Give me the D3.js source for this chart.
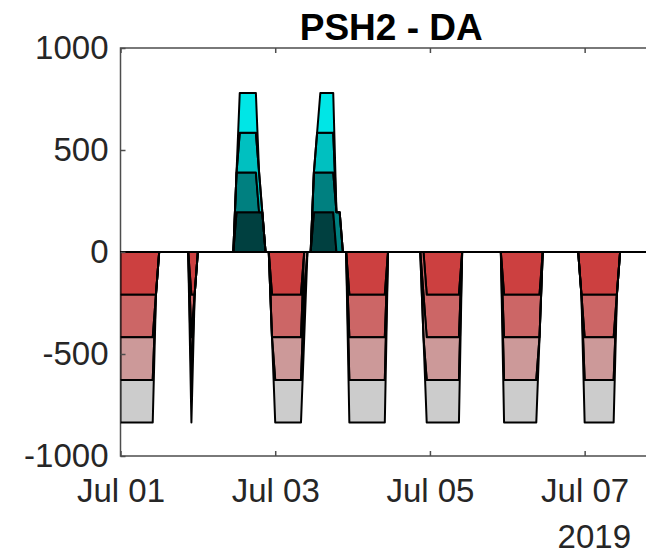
<!DOCTYPE html>
<html>
<head>
<meta charset="utf-8">
<script src="https://cdn.jsdelivr.net/npm/d3@7"></script>
<style>
  body { margin: 0; background: #fff; }
  text { font-family: "Liberation Sans", Arial, Helvetica, sans-serif; }
</style>
</head>
<body>
<svg id="chart" width="646" height="556"></svg>
<script>
// ---- data -------------------------------------------------------------
const chartTitle = "PSH2 - DA";
const hourCount = 168;                       // hourly schedule, Jul 01 00:00 .. Jul 08 00:00
const startTime = new Date(2019, 6, 1, 0, 0);

// generating units (stacked upward from zero, first unit nearest the baseline)
const genUnits  = ["Gen 1", "Gen 2", "Gen 3", "Gen 4"];
const genMW     = [195, 195, 195, 195];
const genColors = ["#004040", "#008080", "#00c0c0", "#00e6e6"];
// hours (inclusive) during which each generating unit runs
const genOnHours = [
  [[36, 44], [60, 66]],
  [[36, 42], [60, 68]],
  [[37, 43], [61, 66]],
  [[37, 42], [62, 66]]
];

// pumping units (stacked downward from zero, first unit nearest the baseline)
const pumpUnits  = ["Pump 1", "Pump 2", "Pump 3", "Pump 4"];
const pumpMW     = [-209, -209, -209, -209];
const pumpColors = ["#cc4040", "#cc6666", "#cc9999", "#cccccc"];
// hours (inclusive) during which each pumping unit runs
const pumpOnHours = [
  [[0, 11], [22, 23], [47, 56], [71, 82], [95, 105], [119, 130], [143, 154]],
  [[0, 10], [22, 22], [47, 56], [71, 82], [94, 105], [119, 130], [144, 153]],
  [[0, 10], [22, 22], [48, 57], [71, 82], [94, 105], [119, 129], [144, 153]],
  [[0, 10], [22, 22], [48, 57], [71, 82], [95, 105], [119, 129], [144, 153]]
];

const yTicks      = [-1000, -500, 0, 500, 1000];
const yTickLabels = ["-1000", "-500", "0", "500", "1000"];
const xTickDates  = [new Date(2019, 6, 1), new Date(2019, 6, 3), new Date(2019, 6, 5), new Date(2019, 6, 7)];
const xTickLabels = ["Jul 01", "Jul 03", "Jul 05", "Jul 07"];
const yearLabel   = "2019";

// ---- layout -----------------------------------------------------------
const svg = d3.select("#chart");
const plot = { left: 120.5, top: 48, right: 662, bottom: 456 };

const x = d3.scaleTime()
  .domain([startTime, new Date(2019, 6, 8, 0, 0)])
  .range([plot.left, plot.right]);
const y = d3.scaleLinear()
  .domain([-1000, 1000])
  .range([plot.bottom, plot.top]);

// hourly table of unit outputs
function unitOutput(intervals, mw, h) {
  return intervals.some(([a, b]) => h >= a && h <= b) ? mw : 0;
}
const rows = d3.range(hourCount + 1).map(h => {
  const row = { time: d3.timeHour.offset(startTime, h) };
  genUnits.forEach((k, i) => row[k] = unitOutput(genOnHours[i], genMW[i], h));
  pumpUnits.forEach((k, i) => row[k] = unitOutput(pumpOnHours[i], pumpMW[i], h));
  return row;
});

const genStack  = d3.stack().keys(genUnits)(rows);
const pumpStack = d3.stack().keys(pumpUnits)(rows);

const area = d3.area()
  .x(d => x(d.data.time))
  .y0(d => y(d[0]))
  .y1(d => y(d[1]));

// ---- axes box ---------------------------------------------------------
const axisColor = "#4d4d4d";
svg.append("rect")
  .attr("x", plot.left).attr("y", plot.top)
  .attr("width", plot.right - plot.left).attr("height", plot.bottom - plot.top)
  .attr("fill", "none").attr("stroke", axisColor).attr("stroke-width", 1.5);

// ---- stacked areas ----------------------------------------------------
svg.append("defs").append("clipPath").attr("id", "plotClip")
  .append("rect")
  .attr("x", plot.left).attr("y", plot.top)
  .attr("width", plot.right - plot.left).attr("height", plot.bottom - plot.top);

const layers = svg.append("g").attr("clip-path", "url(#plotClip)");

layers.selectAll("path.pump")
  .data(pumpStack)
  .join("path")
  .attr("class", "pump")
  .attr("d", area)
  .attr("fill", (d, i) => pumpColors[i])
  .attr("stroke", "#000")
  .attr("stroke-width", 2)
  .attr("stroke-linejoin", "round");

layers.selectAll("path.gen")
  .data(genStack)
  .join("path")
  .attr("class", "gen")
  .attr("d", area)
  .attr("fill", (d, i) => genColors[i])
  .attr("stroke", "#000")
  .attr("stroke-width", 2)
  .attr("stroke-linejoin", "round");

// area baseline
layers.append("line")
  .attr("x1", plot.left).attr("x2", plot.right)
  .attr("y1", y(0)).attr("y2", y(0))
  .attr("stroke", "#000").attr("stroke-width", 1.6);

// ---- ticks and labels -------------------------------------------------
const yAxis = svg.append("g")
  .attr("transform", `translate(${plot.left},0)`)
  .call(d3.axisLeft(y).tickValues(yTicks)
    .tickFormat((d, i) => yTickLabels[i])
    .tickSizeInner(-5).tickSizeOuter(0).tickPadding(12));
const xAxis = svg.append("g")
  .attr("transform", `translate(0,${plot.bottom})`)
  .call(d3.axisBottom(x).tickValues(xTickDates)
    .tickFormat((d, i) => xTickLabels[i])
    .tickSizeInner(-5).tickSizeOuter(0).tickPadding(23));
const xTop = svg.append("g")
  .attr("transform", `translate(0,${plot.top})`)
  .call(d3.axisTop(x).tickValues(xTickDates).tickFormat("")
    .tickSizeInner(-5).tickSizeOuter(0));

[yAxis, xAxis, xTop].forEach(g => {
  g.select(".domain").remove();
  g.selectAll(".tick line").attr("stroke", axisColor).attr("stroke-width", 1.5);
  g.selectAll(".tick text")
    .attr("fill", "#262626")
    .style("font-size", "33px")
    .style("font-family", '"Liberation Sans", Arial, Helvetica, sans-serif');
});

svg.append("text")
  .attr("x", 631).attr("y", 548)
  .attr("text-anchor", "end")
  .attr("fill", "#262626")
  .style("font-size", "33px")
  .text(yearLabel);

svg.append("text")
  .attr("x", (plot.left + plot.right) / 2).attr("y", 40)
  .attr("text-anchor", "middle")
  .attr("fill", "#000")
  .style("font-size", "37px")
  .style("font-weight", "bold")
  .text(chartTitle);
</script>
</body>
</html>
